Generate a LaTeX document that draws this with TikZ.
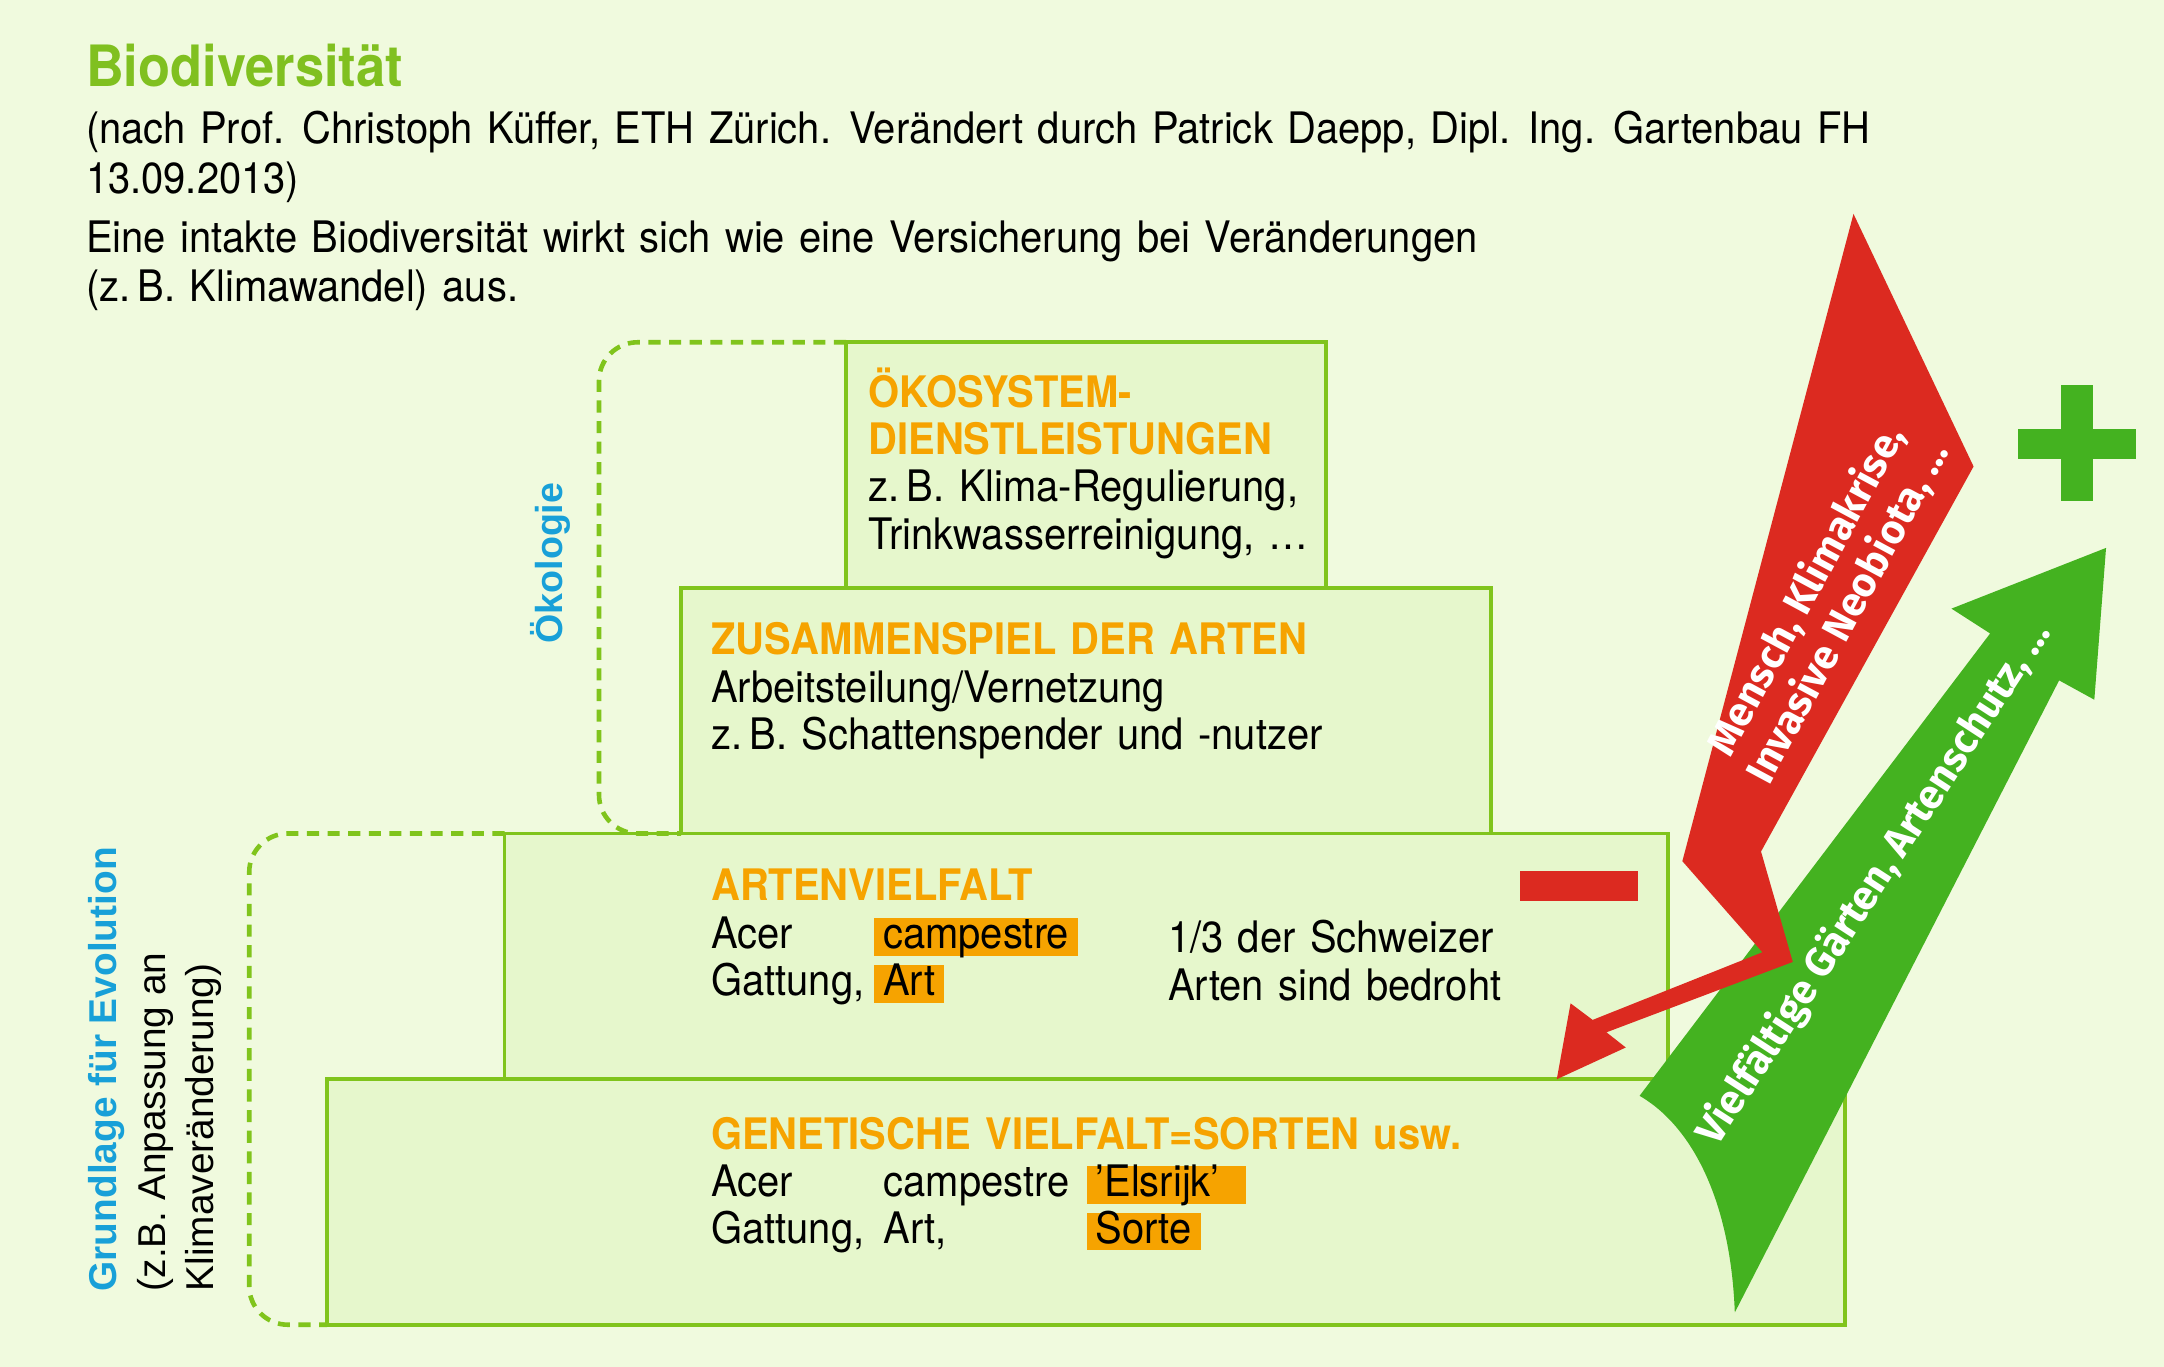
\documentclass[tikz,border=0pt]{standalone}
\usepackage{fontspec}
\setmainfont[FakeStretch=0.92,WordSpace=1.3]{TeX Gyre Heros}
\newfontfamily\arialfont{Liberation Sans}
\newfontfamily\pfeilfont{Fira Sans}
\usetikzlibrary{positioning}

\definecolor{grund}{RGB}{240,250,222}
\definecolor{stufengruen}{RGB}{230,247,204}
\definecolor{rahmengruen}{RGB}{128,196,28}
\definecolor{titelgruen}{RGB}{128,192,32}
\definecolor{kopforange}{RGB}{246,163,0}
\definecolor{blau}{RGB}{24,160,216}
\definecolor{pfeilrot}{RGB}{220,42,32}
\definecolor{pfeilgruen}{RGB}{68,178,32}

\begin{document}
\begin{tikzpicture}[x=0.02cm,y=-0.02cm,node distance=0pt,
  stufe/.style={draw=rahmengruen,fill=stufengruen,line width=1.6pt,outer sep=0pt,minimum height=3.56cm},
  txt/.style={anchor=base west,inner sep=0pt,align=left,font=\fontsize{17.9}{19.5}\selectfont},
  kopf/.style={txt,text=kopforange,font=\fontsize{17.9}{19.3}\selectfont\bfseries},
  titel/.style={txt,text=titelgruen,font=\fontsize{23.5}{28}\selectfont\bfseries},
  markiert/.style={txt,fill=kopforange,inner xsep=0.13cm,text height=0.44cm,text depth=0.1cm},
  klammer/.style={draw=rahmengruen,line width=1.9pt,dash pattern=on 5pt off 3.5pt,rounded corners=0.56cm},
  seitlich/.style={rotate=90,inner sep=0pt,font=\arialfont\fontsize{16}{20}\selectfont},
  pfeiltext/.style={text=white,inner sep=0pt,align=center,font=\pfeilfont\bfseries\fontsize{16.8}{19.4}\selectfont}]
  \useasboundingbox (0,0) rectangle (1568,990.5);
  \fill[grund] (0,0) rectangle (1568,990.5);
  % Kopf
  \node[titel] (titel) at (62,63) {Biodiversität};
  \node[txt,font=\fontsize{17.9}{20.4}\selectfont] (quelle) at (62,140) {(nach Prof. Christoph Küffer, ETH Zürich. Verändert durch Patrick Daepp, Dipl. Ing. Gartenbau FH\\13.09.2013)};
  \node[txt,font=\fontsize{17.9}{20.4}\selectfont] (einleitung) at (62,218.6) {Eine intakte Biodiversität wirkt sich wie eine Versicherung bei Veränderungen\\(z.\,B. Klimawandel) aus.};
  % Pyramide
  \node[stufe,minimum width=6.96cm] (oeko) at (787,337) {};
  \node[stufe,minimum width=11.74cm,below=of oeko] (zusammen) {};
  \node[stufe,minimum width=16.86cm,below=of zusammen] (arten) {};
  \node[stufe,minimum width=22cm,below=of arten] (genetik) {};
  \draw[klammer] (oeko.north west) -- ++(-179,0) |- (zusammen.south west);
  \draw[klammer] (arten.north west) -- ++(-185,0) |- (genetik.south west);
  \node[seitlich,text=blau,font=\arialfont\bfseries\fontsize{15.5}{20}\selectfont] (oekologie) at (399,408) {Ökologie};
  \node[seitlich,anchor=north west,align=left] (grundlage) at (64,936) {{\color{blau}\bfseries Grundlage für Evolution}\\(z.B. Anpassung an\\Klimaveränderung)};
  % Texte
  \node[kopf] (oekokopf) at (629,329) {ÖKOSYSTEM-\\DIENSTLEISTUNGEN};
  \node[txt] (oekotext) at (629,397.8) {z.\,B. Klima-Regulierung,\\Trinkwasserreinigung, \dots};
  \node[kopf] (zuskopf) at (515,474) {ZUSAMMENSPIEL DER ARTEN};
  \node[txt] (zustext) at (515,543) {Arbeitsteilung/Vernetzung\\z.\,B. Schattenspender und -nutzer};
  \node[kopf] (artenkopf) at (515,652.7) {ARTENVIELFALT};
  \node[txt] (artenname) at (515,721.5) {Acer\\Gattung,};
  \node[markiert] (artcamp) at (633,687.5) {campestre};
  \node[markiert] (artart) at (633,721.5) {Art};
  \node[txt] (bedroht) at (846,724.6) {1/3 der Schweizer\\Arten sind bedroht};
  \node[kopf] (genkopf) at (515,832.8) {GENETISCHE VIELFALT=SORTEN usw.};
  \node[txt] (genname) at (515,901) {Acer\\Gattung,};
  \node[txt] (genart) at (640,901) {campestre\\Art,};
  \node[markiert] (genelsrijk) at (787,867.2) {’Elsrijk’\hspace{0.25cm}};
  \node[markiert] (gensorte) at (787,901) {Sorte};
  % Pfeile
  \fill[pfeilrot] (1101,631) rectangle (1186.5,653);
  \fill[pfeilgruen] (1493.5,279.3) rectangle (1516.2,363.3);
  \fill[pfeilgruen] (1462.2,310.7) rectangle (1547.4,332.6);
  \fill[pfeilgruen] (1526,397) -- (1517.5,507) -- (1492,493) -- (1257,951) .. controls (1254,870) and (1226,816) .. (1188,794) -- (1442,459) -- (1414,441) -- cycle;
  \fill[pfeilrot] (1343,155) -- (1430,338) -- (1276,617) -- (1299,697) -- (1164,748) -- (1178,759) -- (1128,782) -- (1138,727) -- (1154,739) -- (1277,690) -- (1219,624) -- cycle;
  \node[pfeiltext,rotate=61.7] (druck) at (1324,436) {Mensch, Klimakrise,\\Invasive Neobiota, \dots};
  \node[pfeiltext,rotate=57] (schutz) at (1358,640) {Vielfältige Gärten, Artenschutz, \dots};
\end{tikzpicture}
\end{document}
